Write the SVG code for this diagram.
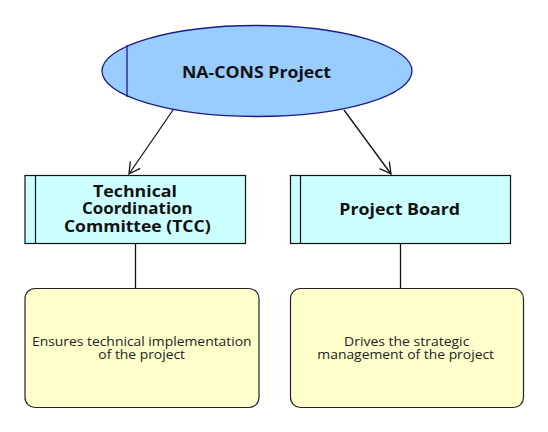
<svg xmlns="http://www.w3.org/2000/svg" width="548" height="432" viewBox="0 0 548 432">
<style>
.title{font-family:"Open Sans","Noto Sans",sans-serif;font-weight:bold;font-size:16.5px;fill:#111;text-anchor:middle}
.desc{font-family:"Open Sans","Noto Sans",sans-serif;font-size:13.5px;fill:#222;text-anchor:middle}
.org{fill:#ccffff;stroke:#111;stroke-width:1.2}
.note{fill:#ffffcc;stroke:#222;stroke-width:1.2}
.conn{stroke:#111;stroke-width:1.3;fill:none}
</style>
<defs>
<marker id="arr" markerWidth="14" markerHeight="14" refX="12" refY="7" orient="auto" markerUnits="userSpaceOnUse">
<path d="M1,1 L12,7 L1,13" fill="none" stroke="#111" stroke-width="1.3"/>
</marker>
</defs>
<rect width="548" height="432" fill="#fff"/>
<g id="connectors">
<line class="conn" x1="173" y1="110" x2="129" y2="174" marker-end="url(#arr)"/>
<line class="conn" x1="344" y1="110" x2="391" y2="174" marker-end="url(#arr)"/>
<line class="conn" x1="135.5" y1="243" x2="135.5" y2="288"/>
<line class="conn" x1="400.5" y1="243" x2="400.5" y2="288"/>
</g>
<g id="na-cons">
<ellipse cx="257" cy="71" rx="155" ry="45.5" fill="#99ccff" stroke="#1a1a8c" stroke-width="1.3"/>
<line x1="127" y1="45" x2="127" y2="97" stroke="#1a1a8c" stroke-width="1.3"/>
<text class="title" x="256.5" y="77.5" textLength="149" lengthAdjust="spacingAndGlyphs">NA-CONS Project</text>
</g>
<g id="tcc">
<rect class="org" x="25" y="175.5" width="220.5" height="68"/>
<line x1="35.5" y1="175.5" x2="35.5" y2="243.5" stroke="#111" stroke-width="1.2"/>
<text class="title" x="135" y="196.5" textLength="84" lengthAdjust="spacingAndGlyphs">Technical</text>
<text class="title" x="137.3" y="214" textLength="110.7" lengthAdjust="spacingAndGlyphs">Coordination</text>
<text class="title" x="137.3" y="231.5" textLength="146.7" lengthAdjust="spacingAndGlyphs">Committee (TCC)</text>
</g>
<g id="board">
<rect class="org" x="290.5" y="175.5" width="220" height="68"/>
<line x1="300.5" y1="175.5" x2="300.5" y2="243.5" stroke="#111" stroke-width="1.2"/>
<text class="title" x="399.7" y="214.5" textLength="120.7" lengthAdjust="spacingAndGlyphs">Project Board</text>
</g>
<g id="tcc-note">
<rect class="note" x="25" y="288.5" width="234" height="119" rx="10"/>
<text class="desc" x="141.8" y="346" textLength="219.7" lengthAdjust="spacingAndGlyphs">Ensures technical implementation</text>
<text class="desc" x="141.7" y="359.3" textLength="86.7" lengthAdjust="spacingAndGlyphs">of the project</text>
</g>
<g id="board-note">
<rect class="note" x="290.5" y="288.5" width="233" height="119" rx="10"/>
<text class="desc" x="406.7" y="346" textLength="125.3" lengthAdjust="spacingAndGlyphs">Drives the strategic</text>
<text class="desc" x="405.7" y="359.3" textLength="176.7" lengthAdjust="spacingAndGlyphs">management of the project</text>
</g>
</svg>
